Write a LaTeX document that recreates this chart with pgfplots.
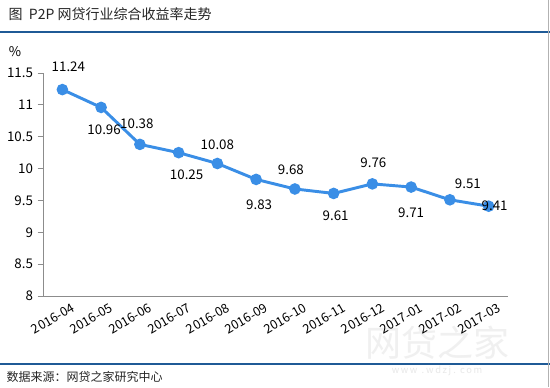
\documentclass[border=0pt]{standalone}
\usepackage{pgfplots}
\pgfplotsset{compat=1.18}
\usepackage{pgfplotstable}
\usepackage{fontspec}
\setmainfont{Noto Sans CJK SC}
\definecolor{lineblue}{HTML}{3A8EE6}
\definecolor{rule}{HTML}{1F5A96}
\definecolor{axgray}{HTML}{8C8C8C}
\pgfplotstableread{
x y dx dy
0 11.24 6 23
1 10.96 3 -22
2 10.38 -3 21
3 10.25 8 -22
4 10.08 0 19
5 9.83 3 -25
6 9.68 -4 19
7 9.61 2 -22
8 9.76 1 21
9 9.71 0 -26
10 9.51 18 16
11 9.41 6 0
}\datatable
\begin{document}
\begin{tikzpicture}
\useasboundingbox (0pt,0pt) rectangle (412.5pt,-290.25pt);
\fill[white] (0pt,0pt) rectangle (412.5pt,-290.25pt);
% title and rules
\node[anchor=west,font=\fontsize{10.5pt}{12pt}\selectfont,text=black!85] at (3pt,-10.5pt) {图\ \ P2P 网贷行业综合收益率走势};
\draw[rule,line width=1.5pt] (0pt,-24pt) -- (412.5pt,-24pt);
\draw[rule,line width=1.5pt] (0pt,-273pt) -- (412.5pt,-273pt);
\draw[gray!60,line width=0.6pt] (411pt,0pt) -- (411pt,-290.25pt);
\node[anchor=west,font=\fontsize{9pt}{10pt}\selectfont,text=black!85] at (1.5pt,-282.75pt) {数据来源：网贷之家研究中心};
% watermark
\node[font=\fontsize{27pt}{28pt}\selectfont,text=gray!12] at (327.75pt,-257.25pt) {网贷之家};
\node[font=\fontsize{7pt}{8pt}\selectfont,text=gray!18] at (327.75pt,-278.25pt) {w\,w\,w\ \ .\ w\,d\,z\,j\ .\ \ c\,o\,m};
\node[font=\fontsize{10pt}{11pt}\selectfont] at (11.25pt,-39pt) {\%};
\begin{axis}[
  at={(32.25pt,-222pt)}, anchor=south west,
  scale only axis, width=348.75pt, height=167.25pt,
  xmin=-0.5, xmax=11.5, ymin=8, ymax=11.5,
  ytick={8,8.5,...,11.5},
  xtick={0,...,11},
  xticklabels={2016-04,2016-05,2016-06,2016-07,2016-08,2016-09,2016-10,2016-11,2016-12,2017-01,2017-02,2017-03},
  major x tick style={draw=none},
  extra x ticks={-0.5,0.5,...,11.5},
  extra x tick labels={},
  extra x tick style={major tick length=4pt, tick style={draw=axgray,line width=0.6pt}},
  x tick label style={rotate=30, anchor=north east, font=\fontsize{9.5pt}{10pt}\selectfont, inner sep=1pt, yshift=-3pt, xshift=6pt},
  y tick label style={font=\fontsize{10pt}{11pt}\selectfont},
  /pgf/number format/assume math mode=true,
  axis x line*=bottom, axis y line*=left,
  axis line style={draw=axgray,line width=0.6pt},
  ytick style={draw=axgray,line width=0.6pt},
  major tick length=4pt,
  tick align=outside,
  clip=false,
]
\addplot[lineblue, line width=2.2pt, mark=*, mark size=3.2pt, mark options={fill=lineblue,draw=lineblue},
  visualization depends on={\thisrow{dx} \as \ddx},
  visualization depends on={\thisrow{dy} \as \ddy},
  nodes near coords,
  point meta=explicit symbolic,
  nodes near coords style={anchor=center, font=\fontsize{10pt}{11pt}\selectfont, text=black, xshift=0.75*\ddx pt, yshift=0.75*\ddy pt},
] table[x=x,y=y,meta=y] {\datatable};
\end{axis}
\end{tikzpicture}
\end{document}
